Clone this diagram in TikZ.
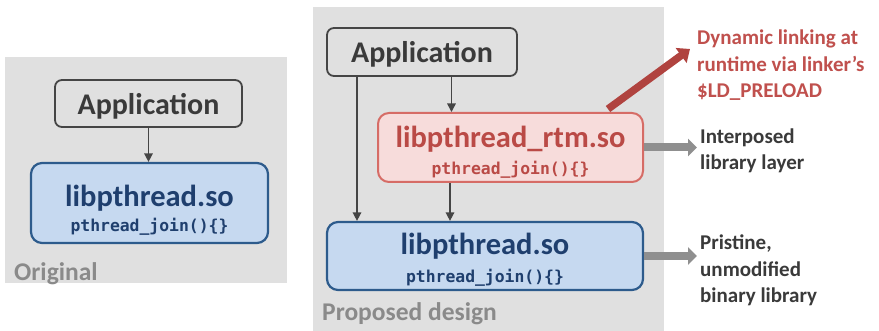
\documentclass[tikz,border=0pt]{standalone}
\usepackage{fontspec}
\setmainfont{Carlito}
\newfontfamily\codefont{DejaVu Sans Mono}
\usetikzlibrary{arrows.meta}

\definecolor{panelgray}{HTML}{E0E0E0}
\definecolor{darkline}{HTML}{454545}
\definecolor{captiongray}{HTML}{8A8A8A}
\definecolor{libfill}{HTML}{C6D9F0}
\definecolor{libline}{HTML}{2D5B8C}
\definecolor{libtext}{HTML}{1F3F6E}
\definecolor{rtmfill}{HTML}{F7DCDB}
\definecolor{rtmline}{HTML}{D66C66}
\definecolor{rtmtext}{HTML}{BA4A46}
\definecolor{notered}{HTML}{C0504D}
\definecolor{preloadred}{HTML}{B0433F}
\definecolor{pointergray}{HTML}{8F8F8F}
\definecolor{notetext}{HTML}{3A3A3A}

\tikzset{
  panel/.style={fill=panelgray, draw=none},
  appbox/.style={draw=darkline, line width=1.8pt, rounded corners=7pt,
    inner sep=0pt, text depth=0pt, text=notetext,
    font=\bfseries\fontsize{30}{36}\selectfont},
  libbox/.style={draw=libline, fill=libfill, line width=2.2pt, rounded corners=11pt},
  rtmbox/.style={draw=rtmline, fill=rtmfill, line width=2pt, rounded corners=11pt},
  libtitle/.style={anchor=base, inner sep=0pt, font=\bfseries\fontsize{30.5}{36}\selectfont},
  libcode/.style={anchor=base, inner sep=0pt, font=\codefont\bfseries\fontsize{16.4}{20}\selectfont},
  caption/.style={anchor=base west, inner sep=0pt, text=captiongray,
    font=\bfseries\fontsize{25.5}{30}\selectfont},
  note/.style={anchor=base west, inner sep=0pt, align=left,
    font=\bfseries\fontsize{21}{26.5}\selectfont},
  flow/.style={draw=darkline, line width=1.5pt, -{Triangle[width=8.5pt,length=8.5pt]}},
  pointer/.style={draw=pointergray, line width=8pt, -{Triangle[width=17pt,length=9pt]}},
  preload/.style={draw=preloadred, line width=7.5pt, -{Triangle[width=18pt,length=11pt]}},
}

\begin{document}
\begin{tikzpicture}[x=1pt, y=-1pt]
  \useasboundingbox (0,0) rectangle (879,331);
  \fill[white] (0,0) rectangle (879,331);

  % backgrounds of the two variants
  \fill[panel] (5,57) rectangle (287,283);
  \fill[panel] (313,7) rectangle (664,331);

  % ---- original stack ----
  \node[appbox, minimum width=187pt, minimum height=47pt] (lapp) at (148.5,103.5) {Application};
  \node[libbox, minimum width=237pt, minimum height=80pt] (llib) at (149.5,203) {};
  \node[libtitle, text=libtext] (llibname) at (149.5,207) {libpthread.so};
  \node[libcode, text=libtext] (llibcode) at (149.5,231.5) {pthread\_join()\{\}};
  \draw[flow] (lapp.south) -- (lapp.south |- llib.north);
  \node[caption] (orig) at (14,281) {Original};

  % ---- proposed stack ----
  \node[appbox, minimum width=190pt, minimum height=48pt] (rapp) at (422,52) {Application};
  \node[rtmbox, minimum width=265pt, minimum height=69pt] (rtm) at (510.5,147.5) {};
  \node[libtitle, text=rtmtext] (rtmname) at (510.5,148) {libpthread\_rtm.so};
  \node[libcode, text=rtmtext] (rtmcode) at (510.5,175) {pthread\_join()\{\}};
  \node[libbox, minimum width=316pt, minimum height=68pt] (rlib) at (485,256) {};
  \node[libtitle, text=libtext] (rlibname) at (485,255) {libpthread.so};
  \node[libcode, text=libtext] (rlibcode) at (485,283) {pthread\_join()\{\}};
  \node[caption] (prop) at (322,320) {Proposed design};

  \coordinate (appleft) at ([xshift=-65pt]rapp.south);
  \coordinate (appmid) at ([xshift=29.5pt]rapp.south);
  \coordinate (rtmmid) at ([xshift=-60.5pt]rtm.south);
  \draw[flow] (appleft) -- (appleft |- rlib.north);
  \draw[flow] (appmid) -- (appmid |- rtm.north);
  \draw[flow] (rtmmid) -- (rtmmid |- rlib.north);

  % ---- annotations (anchored at the baseline of their last line) ----
  \node[note, text=notered] (preloadnote) at (697,98) {Dynamic linking at\\runtime via linker’s\\\$LD\_PRELOAD};
  \node[note, text=notetext] (layernote) at (700,170) {Interposed\\library layer};
  \node[note, text=notetext] (pristinenote) at (700,303) {Pristine,\\unmodified\\binary library};

  \coordinate (preloadstart) at ([xshift=-36pt,yshift=3pt]rtm.north east);
  \coordinate (preloadtip) at (690,49);
  \coordinate (layertip) at (697,147.5);
  \coordinate (pristinetip) at (697,256);
  \draw[preload] (preloadstart) -- (preloadtip);
  \draw[pointer] (rtm.east) -- (layertip);
  \draw[pointer] (rlib.east) -- (pristinetip);
\end{tikzpicture}
\end{document}
